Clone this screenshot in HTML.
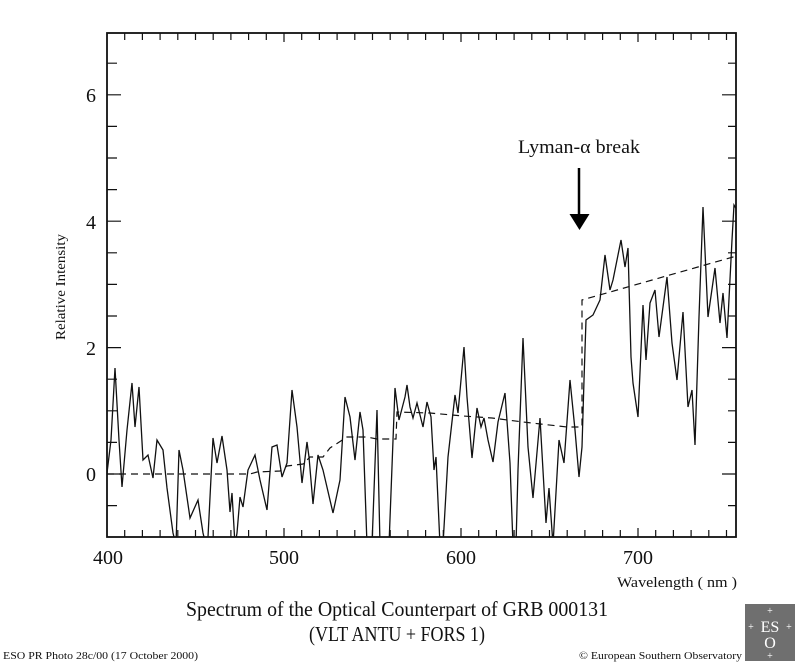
<!DOCTYPE html>
<html><head><meta charset="utf-8"><style>
html,body{margin:0;padding:0;background:#fff}
svg{display:block}
text{font-family:"Liberation Serif","DejaVu Serif",serif;fill:#111}
</style></head><body>
<svg width="800" height="663" viewBox="0 0 800 663" xmlns="http://www.w3.org/2000/svg">
<defs><clipPath id="c"><rect x="107" y="33" width="629" height="504"/></clipPath></defs>
<g stroke="#111" stroke-width="1.2" fill="none">
<rect x="107" y="33" width="629" height="504" stroke-width="1.8"/>
<path d="M124.7 537v-7M142.4 537v-7M160.1 537v-7M177.8 537v-7M195.5 537v-7M213.2 537v-7M230.9 537v-7M248.6 537v-7M266.3 537v-7M284 537v-9M301.7 537v-7M319.4 537v-7M337.1 537v-7M354.8 537v-7M372.5 537v-7M390.2 537v-7M407.9 537v-7M425.6 537v-7M443.3 537v-7M461 537v-9M478.7 537v-7M496.4 537v-7M514.1 537v-7M531.8 537v-7M549.5 537v-7M567.2 537v-7M584.9 537v-7M602.6 537v-7M620.3 537v-7M638 537v-9M655.7 537v-7M673.4 537v-7M691.1 537v-7M708.8 537v-7M726.5 537v-7"/>
<path d="M124.7 33v7M142.4 33v7M160.1 33v7M177.8 33v7M195.5 33v7M213.2 33v7M230.9 33v7M248.6 33v7M266.3 33v7M284 33v9M301.7 33v7M319.4 33v7M337.1 33v7M354.8 33v7M372.5 33v7M390.2 33v7M407.9 33v7M425.6 33v7M443.3 33v7M461 33v9M478.7 33v7M496.4 33v7M514.1 33v7M531.8 33v7M549.5 33v7M567.2 33v7M584.9 33v7M602.6 33v7M620.3 33v7M638 33v9M655.7 33v7M673.4 33v7M691.1 33v7M708.8 33v7M726.5 33v7"/>
<path d="M107 505.6h10M107 474h14M107 442.4h10M107 410.8h10M107 379.2h10M107 347.6h14M107 316h10M107 284.4h10M107 252.8h10M107 221.2h14M107 189.6h10M107 158h10M107 126.4h10M107 94.8h14M107 63.2h10"/>
<path d="M736 505.6h-8M736 474h-14M736 442.4h-8M736 410.8h-8M736 379.2h-8M736 347.6h-14M736 316h-8M736 284.4h-8M736 252.8h-8M736 221.2h-14M736 189.6h-8M736 158h-8M736 126.4h-8M736 94.8h-14M736 63.2h-8"/>
</g>
<g clip-path="url(#c)" fill="none" stroke="#111">
<polyline stroke-width="1.3" points="107,473 111,440 115,368 119,440 122,487 127,430 132,383 135,427 139,387 143,460 148,455 153,478 157,440 163,450 167,488 173,533 176,545 179,450 183,470 190,518 198,500 203,533 206,545 208,537 213,438 217,463 222,436 227,470 230,512 232,493 235,545 237,533 240,497 243,507 248,470 255,455 260,480 267,510 272,447 277,445 282,477 287,463 292,390 297,427 302,483 307,442 309,457 313,504 318,455 323,470 333,513 340,480 345,397 350,417 355,460 360,412 363,430 367,545 372,545 377,410 380,545 389,545 395,388 399,420 405,397 407,385 410,407 413,418 417,403 423,427 427,402 431,417 434,470 436,457 440,545 443,545 448,457 455,395 458,413 464,347 467,397 472,458 477,408 481,427 484,418 488,440 493,462 498,422 505,393 510,463 513,545 516,545 518,470 523,338 528,447 533,498 540,418 546,523 549,488 553,545 559,440 564,463 570,380 575,430 579,477 582,447 584,380 586,320 593,315 600,300 605,255 610,290 613,280 621,240 625,267 628,248 631,357 633,383 638,417 643,305 646,360 650,303 655,290 659,337 667,277 672,343 677,380 683,312 688,407 692,390 695,445 699,317 703,207 708,317 715,268 720,323 723,293 727,338 732,240 734,205 737,210"/>
<polyline stroke-width="1.2" stroke-dasharray="7,5" points="107,474 250,474 257,472 280,471 287,466 303,464 310,457 323,457 330,448 347,437 367,437 377,439 396,439 397,412 430,413 463,416 492,418 523,422 567,427 582,427 582,300 733,257 737,256"/>
</g>
<g font-size="20" text-anchor="middle">
<text x="96" y="102" text-anchor="end">6</text>
<text x="96" y="229" text-anchor="end">4</text>
<text x="96" y="355" text-anchor="end">2</text>
<text x="96" y="481" text-anchor="end">0</text>
<text x="108" y="564" textLength="30" lengthAdjust="spacingAndGlyphs">400</text>
<text x="284" y="564" textLength="30" lengthAdjust="spacingAndGlyphs">500</text>
<text x="461" y="564" textLength="30" lengthAdjust="spacingAndGlyphs">600</text>
<text x="638" y="564" textLength="30" lengthAdjust="spacingAndGlyphs">700</text>
</g>
<text x="518" y="153" font-size="19" textLength="122" lengthAdjust="spacingAndGlyphs">Lyman-α break</text>
<line x1="579" y1="168" x2="579" y2="216" stroke="#000" stroke-width="2.5"/>
<polygon points="569.5,214 589.5,214 579.5,230" fill="#000"/>
<text transform="translate(65,287) rotate(-90)" font-size="14" text-anchor="middle" textLength="106" lengthAdjust="spacingAndGlyphs">Relative Intensity</text>
<text x="617" y="587" font-size="15" textLength="120" lengthAdjust="spacingAndGlyphs">Wavelength  ( nm )</text>
<text x="397" y="616" font-size="21" text-anchor="middle" textLength="422" lengthAdjust="spacingAndGlyphs">Spectrum of the Optical Counterpart of GRB 000131</text>
<text x="397" y="641" font-size="21" text-anchor="middle" textLength="176" lengthAdjust="spacingAndGlyphs">(VLT ANTU + FORS 1)</text>
<text x="3" y="659" font-size="11" textLength="195" lengthAdjust="spacingAndGlyphs">ESO PR Photo 28c/00 (17 October 2000)</text>
<text x="579" y="659" font-size="11" textLength="163" lengthAdjust="spacingAndGlyphs">© European Southern Observatory</text>
<rect x="745" y="604" width="50" height="57" fill="#6f6f6f"/>
<text x="770" y="632" font-size="16" text-anchor="middle" style="fill:#fff">ES</text>
<text x="770" y="648" font-size="16" text-anchor="middle" style="fill:#fff">O</text>
<text x="770" y="614" font-size="10" text-anchor="middle" style="fill:#fff">+</text>
<text x="751" y="630" font-size="10" text-anchor="middle" style="fill:#fff">+</text>
<text x="789" y="630" font-size="10" text-anchor="middle" style="fill:#fff">+</text>
<text x="770" y="659" font-size="10" text-anchor="middle" style="fill:#fff">+</text>
</svg>
</body></html>
